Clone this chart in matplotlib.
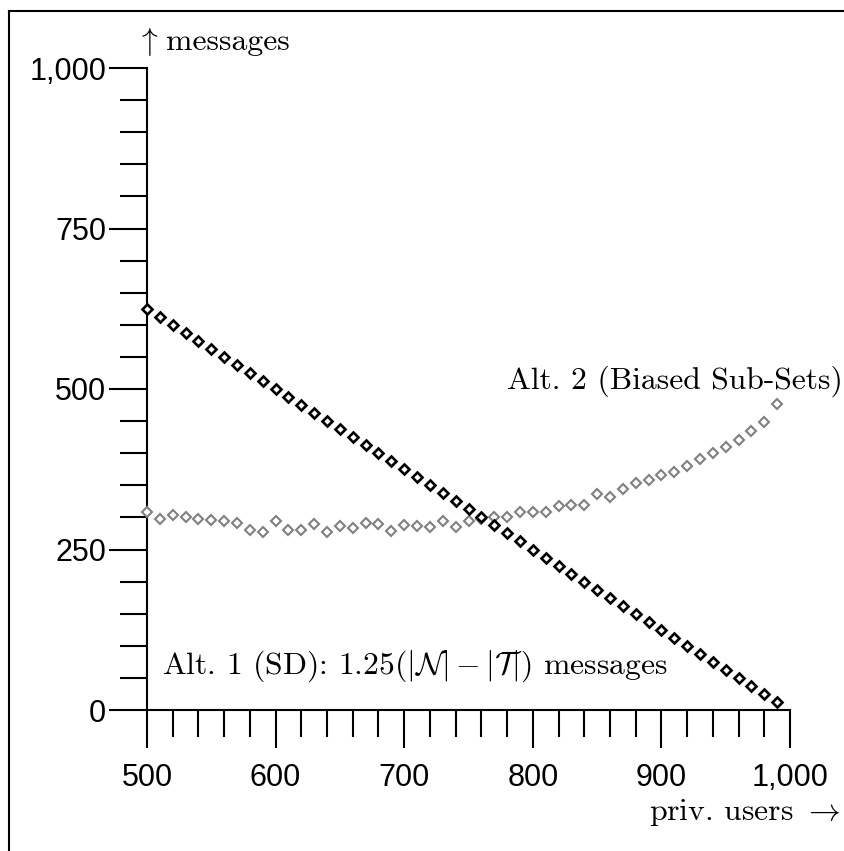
import matplotlib
matplotlib.use('Agg')
import matplotlib.pyplot as plt
from matplotlib.ticker import MultipleLocator, FuncFormatter
from matplotlib.lines import Line2D

# 数据：横轴为私有用户数，纵轴为消息数
priv_users = list(range(500, 1000, 10))
alt1_sd = [625.0, 612.5, 600.0, 587.5, 575.0, 562.5, 550.0, 537.5, 525.0, 512.5,
           500.0, 487.5, 475.0, 462.5, 450.0, 437.5, 425.0, 412.5, 400.0, 387.5,
           375.0, 362.5, 350.0, 337.5, 325.0, 312.5, 300.0, 287.5, 275.0, 262.5,
           250.0, 237.5, 225.0, 212.5, 200.0, 187.5, 175.0, 162.5, 150.0, 137.5,
           125.0, 112.5, 100.0, 87.5, 75.0, 62.5, 50.0, 37.5, 25.0, 12.5]
alt2_biased = [308, 297, 304, 300, 298, 296, 294, 291, 280, 277,
               294, 281, 280, 289, 278, 286, 284, 291, 290, 279,
               288, 286, 285, 295, 285, 294, 298, 300, 300, 309,
               309, 309, 317, 319, 319, 336, 331, 345, 354, 359,
               366, 371, 380, 391, 400, 409, 421, 434, 448, 477]
y_ticks = [0, 250, 500, 750, 1000]
x_ticks = [500, 600, 700, 800, 900, 1000]

plt.rcParams['mathtext.fontset'] = 'cm'
plt.rcParams['axes.formatter.use_mathtext'] = True
tick_font = 'Liberation Sans'
serif = 'cmr10'
fs = 22.8

W, H = 844, 851
fig = plt.figure(figsize=(W / 100, H / 100), dpi=100)
ax = fig.add_axes([147 / W, 1 - 710 / H, (790 - 147) / W, (710 - 68) / H])

# 灰色在下，黑色在上
ax.plot(priv_users, alt2_biased, linestyle='none', marker='D', markersize=4.8,
        markerfacecolor='white', markeredgecolor='#808080', markeredgewidth=1.5,
        clip_on=False, zorder=3)
ax.plot(priv_users, alt1_sd, linestyle='none', marker='D', markersize=4.8,
        markerfacecolor='white', markeredgecolor='black', markeredgewidth=1.9,
        clip_on=False, zorder=4)

ax.set_xlim(500, 1000)
ax.set_ylim(0, 1000)
for s in ['top', 'right']:
    ax.spines[s].set_visible(False)
for s in ['left', 'bottom']:
    ax.spines[s].set_linewidth(1.5)

ax.set_xticks(x_ticks)
ax.set_yticks(y_ticks)
ax.xaxis.set_minor_locator(MultipleLocator(20))
ax.yaxis.set_minor_locator(MultipleLocator(50))
fmt = FuncFormatter(lambda v, p: '{:,.0f}'.format(v))
ax.xaxis.set_major_formatter(fmt)
ax.yaxis.set_major_formatter(fmt)
ax.tick_params(which='major', direction='out', length=27.5, width=1.5)
ax.tick_params(which='minor', direction='out', length=19.5, width=1.5)
ax.tick_params(axis='x', which='major', pad=11)
ax.tick_params(axis='y', which='major', pad=2)
for lab in ax.get_xticklabels() + ax.get_yticklabels():
    lab.set_fontfamily(tick_font)
    lab.set_fontsize(22)

# 文字说明
ax.text(512, 57, r'Alt. 1 (SD): $1.25(|\mathcal{N}|-|\mathcal{T}|)$ messages',
        family=serif, fontsize=fs, ha='left', va='baseline')
ax.text(780, 501, 'Alt. 2 (Biased Sub-Sets)', family=serif, fontsize=fs,
        ha='left', va='baseline')
fig.text(147 / W, 1 - 50 / H, r'$\uparrow$', family=serif, fontsize=fs,
         ha='center', va='baseline')
fig.text(166 / W, 1 - 50 / H, 'messages', family=serif, fontsize=fs,
         ha='left', va='baseline')
fig.text(841 / W, 1 - 820 / H, r'priv. users $\rightarrow$', family=serif,
         fontsize=fs, ha='right', va='baseline')

# 图框只有左边和上边
fig.add_artist(Line2D([9 / W, 9 / W], [0, 1 - 10.5 / H], color='black', lw=1.5))
fig.add_artist(Line2D([9 / W, 1], [1 - 10.5 / H, 1 - 10.5 / H], color='black', lw=1.5))

fig.savefig('out.png', dpi=100)
